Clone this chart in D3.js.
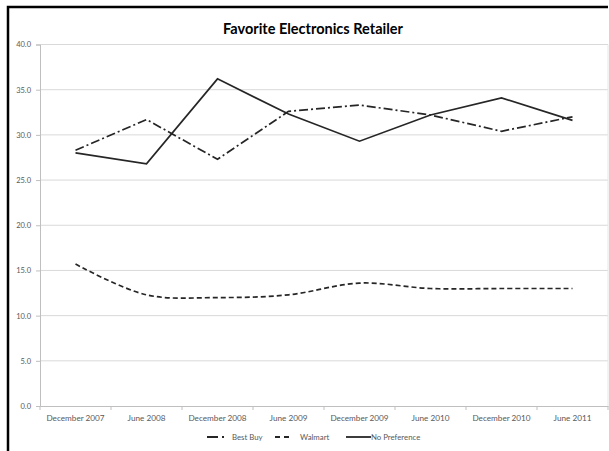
<!DOCTYPE html>
<html><head><meta charset="utf-8">
<script src="https://cdn.jsdelivr.net/npm/d3@7"></script>
<style>body{margin:0;background:#fff}svg{display:block}text{font-family:Lato,"Open Sans",sans-serif}</style>
</head><body><svg id="c" width="609" height="451"></svg>
<script>
const categories = ["December 2007","June 2008","December 2008","June 2009","December 2009","June 2010","December 2010","June 2011"];
const bestBuy = [28.3, 31.7, 27.3, 32.6, 33.3, 32.2, 30.4, 32.0];
const walmart = [15.7, 12.3, 12.0, 12.3, 13.6, 13.0, 13.0, 13.0];
const noPreference = [28.0, 26.8, 36.2, 32.3, 29.3, 32.2, 34.1, 31.6];
const yTicks = [0,5,10,15,20,25,30,35,40];
const title = "Favorite Electronics Retailer";

const svg = d3.select("#c");
const x = d3.scaleBand().domain(categories).range([40, 608]);
const y = d3.scaleLinear().domain([0,40]).range([406, 44.5]);

// frame
svg.append("path").attr("d", `M8,451 L8,7 L608,7`).attr("fill","none").attr("stroke","#000").attr("stroke-width",2.5);

// title
svg.append("text").attr("x", 313).attr("y", 34).attr("text-anchor","middle")
  .attr("font-size", 14.5).attr("font-weight","bold").attr("fill","#000").text(title);

// gridlines
svg.append("g").selectAll("line").data(yTicks.filter(d=>d>0)).join("line")
  .attr("x1", 40).attr("x2", 608).attr("y1", d=>y(d)).attr("y2", d=>y(d))
  .attr("stroke","#d9d9d9").attr("stroke-width",1);
// plot right edge
svg.append("line").attr("x1",608).attr("x2",608).attr("y1",y(40)).attr("y2",y(0))
  .attr("stroke","#e6e6e6").attr("stroke-width",1);

// y axis
const ya = svg.append("g").attr("transform","translate(40,0)")
  .call(d3.axisLeft(y).tickValues(yTicks).tickFormat(d3.format(".1f")).tickSize(4).tickPadding(5));
ya.select(".domain").attr("stroke","#bfbfbf");
ya.selectAll(".tick line").attr("stroke","#bfbfbf");
ya.selectAll("text").attr("font-size",7.5).attr("fill","#595959").attr("font-family","Lato,sans-serif");

// x axis
const xa = svg.append("g").attr("transform",`translate(0,${y(0)})`)
  .call(d3.axisBottom(x).tickSize(0).tickPadding(9));
xa.select(".domain").attr("stroke","#bfbfbf");
xa.selectAll("text").attr("font-size",8.2).attr("fill","#595959").attr("font-family","Lato,sans-serif");
// category boundary ticks
const bounds = categories.map(c=>x(c)).concat([x(categories[categories.length-1])+x.bandwidth()]);
svg.append("g").selectAll("line").data(bounds).join("line")
  .attr("x1",d=>d).attr("x2",d=>d).attr("y1",y(0)).attr("y2",y(0)+4).attr("stroke","#bfbfbf");

const cx = c => x(c) + x.bandwidth()/2;
const series = [
  {name:"Best Buy", values:bestBuy, dash:"9,3,2,3", curve:d3.curveLinear},
  {name:"Walmart", values:walmart, dash:"5,3", curve:d3.curveCatmullRom.alpha(0.5)},
  {name:"No Preference", values:noPreference, dash:null, curve:d3.curveLinear}
];
series.forEach(s=>{
  const line = d3.line().x((d,i)=>cx(categories[i])).y(d=>y(d)).curve(s.curve);
  svg.append("path").datum(s.values).attr("d", line).attr("fill","none")
    .attr("stroke","#262626").attr("stroke-width",1.7)
    .attr("stroke-dasharray", s.dash);
});

// legend
const leg = [
  {name:"Best Buy", x:207, len:19, dash:"11,4,2,4", tx:232},
  {name:"Walmart", x:275, len:16, dash:"5,4", tx:300},
  {name:"No Preference", x:346, len:25, dash:null, tx:371}
];
const lg = svg.append("g");
leg.forEach(l=>{
  lg.append("line").attr("x1",l.x).attr("x2",l.x+l.len).attr("y1",437).attr("y2",437)
    .attr("stroke","#262626").attr("stroke-width",1.8).attr("stroke-dasharray",l.dash);
  lg.append("text").attr("x",l.tx).attr("y",440).attr("font-size",7.8).attr("fill","#595959").text(l.name);
});
</script></body></html>
